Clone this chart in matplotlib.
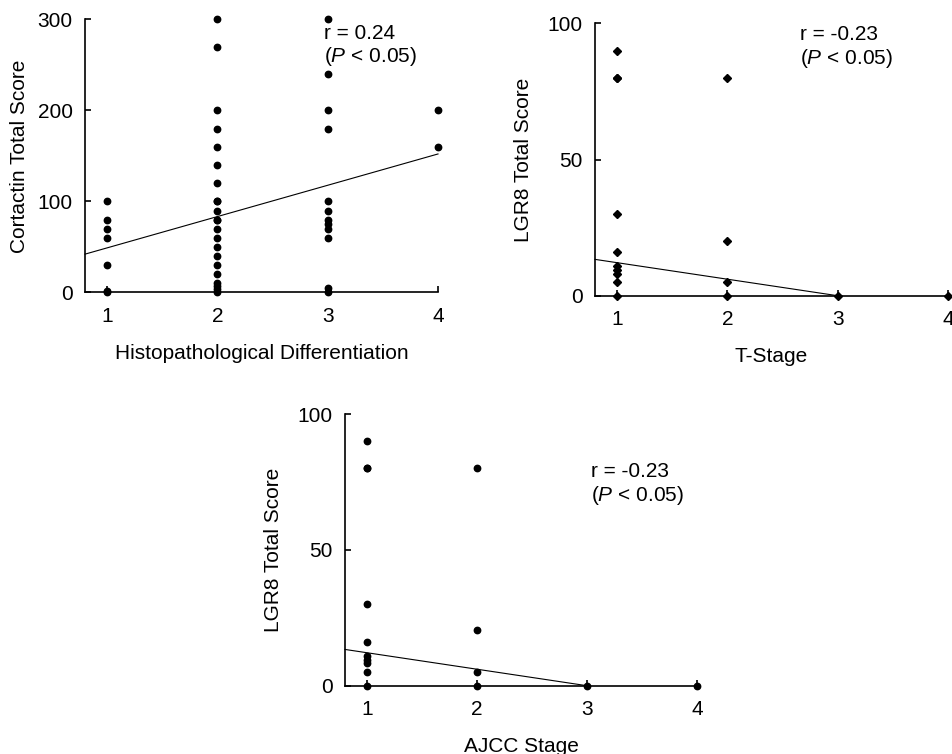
import matplotlib
matplotlib.use("Agg")
import numpy as np
import matplotlib.pyplot as plt

plt.rcParams['font.family'] = ['Liberation Sans', 'DejaVu Sans']
plt.rcParams['mathtext.fontset'] = 'custom'
plt.rcParams['mathtext.rm'] = 'Liberation Sans'
plt.rcParams['mathtext.it'] = 'Liberation Sans:italic'

# Cortactin vs histopathological differentiation
diff_grade = [1] * 7 + [2] * 22 + [3] * 12 + [4] * 2
cortactin_score = [100, 80, 70, 60, 30, 2, 0,
                   300, 270, 200, 180, 160, 140, 120, 100, 100, 90, 80, 80, 70, 60, 50, 40, 30, 20, 10, 7, 4, 0,
                   300, 240, 200, 180, 100, 90, 80, 75, 70, 60, 5, 0,
                   200, 160]
cortactin_fit = (14.6, 34.4)   # intercept, slope
cortactin_fit_range = (0.8, 4)

# LGR8 vs T-stage
t_stage = [1] * 10 + [2] * 4 + [3, 4]
lgr8_t_score = [90, 80, 80, 30, 16, 11, 9.5, 8, 5, 0,
                80, 20, 5, 0,
                0, 0]

# LGR8 vs AJCC stage
ajcc_stage = [1] * 10 + [2] * 4 + [3, 4]
lgr8_ajcc_score = [90, 80, 80, 30, 16, 11, 9.5, 8.5, 5, 0,
                   80, 20.5, 5, 0,
                   0, 0]
lgr8_fit = (18.2, -6.07)
lgr8_fit_range = (0.8, 3)

stage_ticks = [1, 2, 3, 4]


def panel(fig, rect, x, y, fit, fit_range, marker, yticks, ylim,
          xlabel, ylabel, r_text, text_xy, ylabelpad):
    ax = fig.add_axes(rect)
    ax.plot(x, y, linestyle='none', marker=marker, color='black',
            markersize=4.6 if marker == 'o' else 4.4, clip_on=False, zorder=3)
    xs = np.array(fit_range)
    ax.plot(xs, fit[0] + fit[1] * xs, color='black', linewidth=0.8, clip_on=False)
    ax.set_xlim(0.8, 4)
    ax.set_ylim(*ylim)
    ax.set_xticks(stage_ticks)
    ax.set_yticks(yticks)
    for s in ['top', 'right']:
        ax.spines[s].set_visible(False)
    for s in ['left', 'bottom']:
        ax.spines[s].set_linewidth(1.2)
    ax.tick_params(direction='in', length=4.5, width=1.2, labelsize=15)
    ax.tick_params(axis='x', pad=10.5)
    ax.tick_params(axis='y', pad=9)
    ax.set_xlabel(xlabel, fontsize=15, labelpad=13)
    ax.set_ylabel(ylabel, fontsize=15, labelpad=ylabelpad)
    tx, ty1, ty2 = text_xy
    ax.text(tx, ty1, r_text, fontsize=15, va='baseline', ha='left')
    ax.text(tx, ty2, r'($\mathit{P}$ < 0.05)', fontsize=15, va='baseline', ha='left')
    return ax


fig = plt.figure(figsize=(9.53, 7.54), dpi=100)

panel(fig, [0.0892, 0.6121, 0.3704, 0.3621], diff_grade, cortactin_score,
      cortactin_fit, cortactin_fit_range, 'o', [0, 100, 200, 300], (0, 300),
      'Histopathological Differentiation', 'Cortactin Total Score',
      'r = 0.24', (2.97, 278, 253.5), 6)

panel(fig, [0.6243, 0.6078, 0.3707, 0.3613], t_stage, lgr8_t_score,
      lgr8_fit, lgr8_fit_range, 'D', [0, 50, 100], (0, 100),
      'T-Stage', 'LGR8 Total Score',
      'r = -0.23', (2.66, 94, 85), 10)

panel(fig, [0.3620, 0.0906, 0.3694, 0.3603], ajcc_stage, lgr8_ajcc_score,
      lgr8_fit, lgr8_fit_range, 'o', [0, 50, 100], (0, 100),
      'AJCC Stage', 'LGR8 Total Score',
      'r = -0.23', (3.04, 77, 68), 10)

fig.savefig('out.png', dpi=100)
